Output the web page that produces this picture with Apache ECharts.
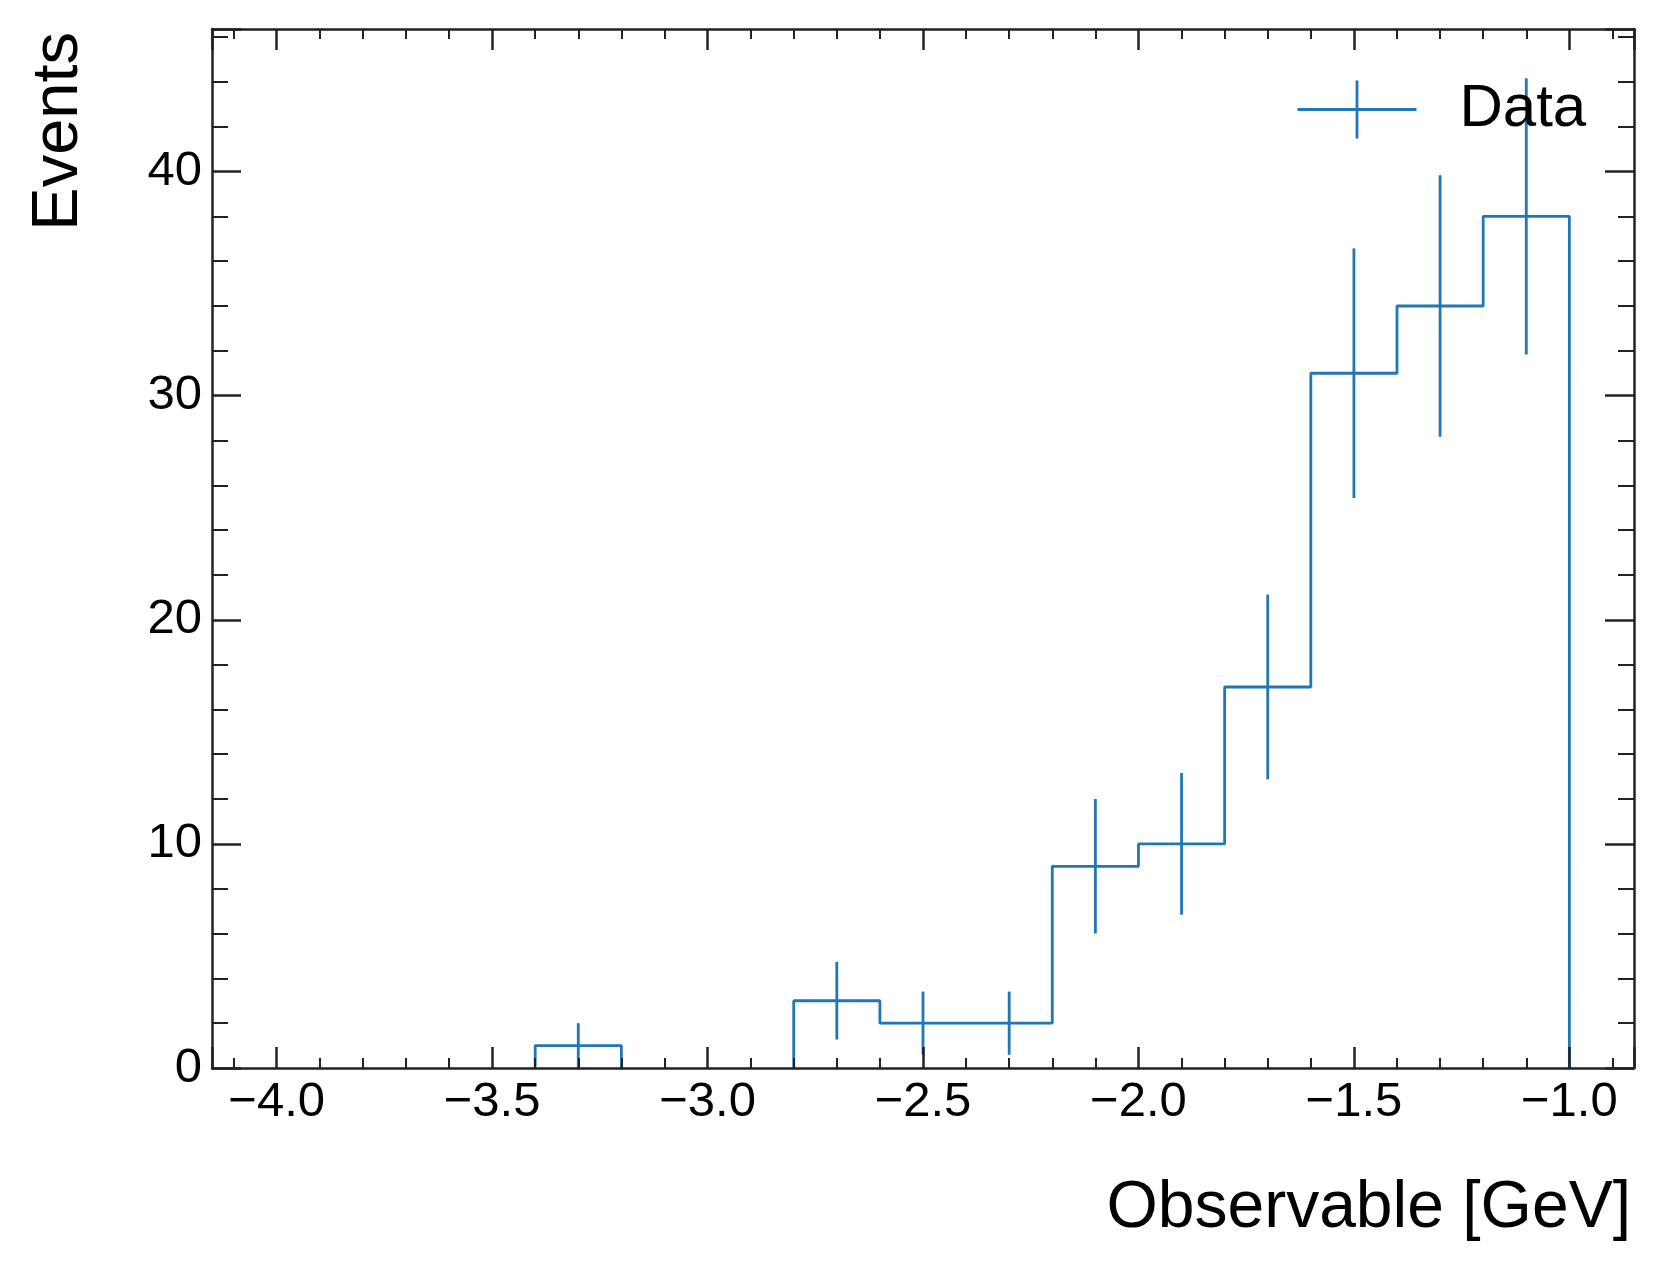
<!DOCTYPE html>
<html>
<head>
<meta charset="utf-8">
<title>Events vs Observable</title>
<script src="https://cdn.jsdelivr.net/npm/echarts@6/dist/echarts.min.js"></script>
<style>
  html, body { margin: 0; padding: 0; background: #fff; }
  #chart { width: 1663px; height: 1275px; }
</style>
</head>
<body>
<div id="chart"></div>
<script>
// 直方图数据 (bin 宽度 0.2)
const binLow  = [-3.4, -3.2, -3.0, -2.8, -2.6, -2.4, -2.2, -2.0, -1.8, -1.6, -1.4, -1.2];
const binHigh = [-3.2, -3.0, -2.8, -2.6, -2.4, -2.2, -2.0, -1.8, -1.6, -1.4, -1.2, -1.0];
const counts  = [1, 0, 0, 3, 2, 2, 9, 10, 17, 31, 34, 38];
const errors  = [1.0, 0, 0, 1.73, 1.41, 1.41, 3.0, 3.16, 4.12, 5.57, 5.83, 6.16];

const xRange = [-4.15, -0.85];
const yRange = [0, 46.36];

const blue = '#1f77b4';
const ink = '#222';
const font = '"Liberation Sans", Arial, Helvetica, sans-serif';

// 阶梯线: 每个 bin 左右两端各一个点, 空 bin 贴着 0 线 (和坐标轴重合) 就断开
const stepData = [];
let prev = 0;
counts.forEach((c, i) => {
    if (c === 0) {
        if (prev !== 0) {
            stepData.push([binLow[i], 0]);
            stepData.push([binLow[i], '-']);
        }
    } else {
        if (prev === 0) stepData.push([binLow[i], 0]);
        stepData.push([binLow[i], c]);
        stepData.push([binHigh[i], c]);
    }
    prev = c;
});
if (prev !== 0) stepData.push([binHigh[binHigh.length - 1], 0]);

const errData = counts.map((c, i) => [(binLow[i] + binHigh[i]) / 2, c, errors[i]]);

function xLabel(v) {
    if (Math.abs(v * 2 - Math.round(v * 2)) > 1e-6) return '';
    return v.toFixed(1).replace('-', '\u2212');
}
function yLabel(v) {
    if (Math.abs(v / 10 - Math.round(v / 10)) > 1e-6) return '';
    return String(Math.round(v));
}

function xAxisCfg(pos, showLabel) {
    return {
        type: 'value',
        position: pos,
        min: xRange[0],
        max: xRange[1],
        minInterval: 0.5,
        maxInterval: 0.5,
        splitNumber: 6,
        z: 10,
        axisLine: { show: true, onZero: false, lineStyle: { color: ink, width: 2.5 } },
        axisTick: { show: true, inside: true, length: 21, lineStyle: { color: ink, width: 2.5 } },
        minorTick: { show: true, splitNumber: 5, length: 10, lineStyle: { color: ink, width: 2 } },
        splitLine: { show: false },
        axisLabel: {
            show: showLabel,
            margin: 10,
            fontSize: 49,
            fontFamily: font,
            color: '#000',
            formatter: xLabel
        }
    };
}

function yAxisCfg(pos, showLabel) {
    return {
        type: 'value',
        position: pos,
        min: yRange[0],
        max: yRange[1],
        interval: 10,
        z: 10,
        axisLine: { show: true, onZero: false, lineStyle: { color: ink, width: 2.5 } },
        axisTick: { show: true, inside: true, length: 29, lineStyle: { color: ink, width: 2.5 } },
        minorTick: { show: true, splitNumber: 5, length: 16, lineStyle: { color: ink, width: 2 } },
        splitLine: { show: false },
        axisLabel: {
            show: showLabel,
            margin: 10,
            fontSize: 49,
            fontFamily: font,
            color: '#000',
            formatter: yLabel
        }
    };
}

const chart = echarts.init(document.getElementById('chart'), null, { renderer: 'canvas' });

const option = {
    backgroundColor: '#fff',
    animation: false,
    grid: { left: 212, right: 29, top: 29, bottom: 207 },
    xAxis: [xAxisCfg('bottom', true), xAxisCfg('top', false)],
    yAxis: [yAxisCfg('left', true), yAxisCfg('right', false)],
    legend: {
        left: 1295,
        top: 78,
        padding: 0,
        itemWidth: 119,
        itemHeight: 58,
        symbolKeepAspect: false,
        textStyle: { fontSize: 60, fontFamily: font, color: '#000', padding: [0, 0, 0, 38] },
        data: [{
            name: 'Data',
            icon: 'path://M0,50L100,50M50,0L50,100',
            itemStyle: { color: 'none', borderColor: blue, borderWidth: 2.8 }
        }]
    },
    graphic: [
        {
            type: 'text',
            x: 1631,
            y: 1209,
            style: {
                text: 'Observable [GeV]',
                font: '66px ' + font,
                fill: '#000',
                align: 'right',
                verticalAlign: 'middle'
            }
        },
        {
            type: 'text',
            x: 59,
            y: 32,
            rotation: Math.PI / 2,
            style: {
                text: 'Events',
                font: '65px ' + font,
                fill: '#000',
                align: 'right',
                verticalAlign: 'middle'
            }
        }
    ],
    series: [
        {
            name: 'step',
            type: 'line',
            data: stepData,
            symbol: 'none',
            showSymbol: false,
            connectNulls: false,
            lineStyle: { color: blue, width: 2.8 },
            itemStyle: { color: blue },
            silent: true,
            z: 3
        },
        {
            name: 'Data',
            type: 'custom',
            data: errData,
            itemStyle: { color: blue },
            renderItem: function (params, api) {
                const x = api.value(0);
                const y = api.value(1);
                const e = api.value(2);
                if (!(e > 0)) return null;
                const p1 = api.coord([x, y - e]);
                const p2 = api.coord([x, y + e]);
                return {
                    type: 'line',
                    shape: { x1: p1[0], y1: p1[1], x2: p2[0], y2: p2[1] },
                    style: { stroke: blue, lineWidth: 2.8 }
                };
            },
            z: 3
        }
    ]
};

chart.setOption(option);

window.addEventListener('resize', function () {
    chart.resize();
});
</script>
</body>
</html>
